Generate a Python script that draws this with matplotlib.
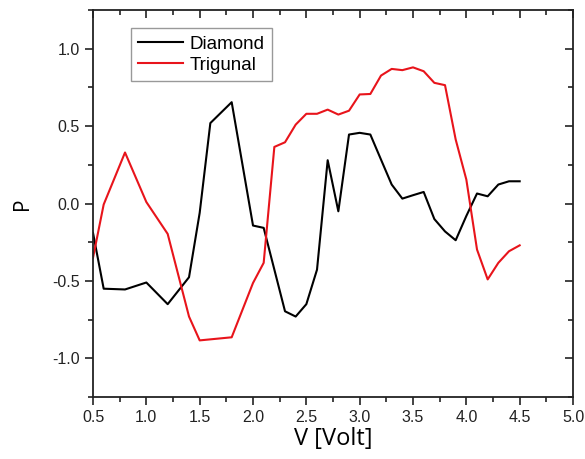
import numpy as np
import matplotlib
matplotlib.use("Agg")
import matplotlib.pyplot as plt
from matplotlib.ticker import MultipleLocator

plt.rcParams["axes.unicode_minus"] = False

# Diamond (black) vertices
v_dia = [0.5, 0.6, 0.8, 1.0, 1.2, 1.4, 1.5, 1.6, 1.8, 2.0, 2.1, 2.3, 2.4, 2.5, 2.6,
         2.7, 2.8, 2.9, 3.0, 3.1, 3.2, 3.3, 3.4, 3.5, 3.6, 3.7, 3.8, 3.9, 4.0, 4.1,
         4.2, 4.3, 4.4, 4.5]
p_dia = [-0.19, -0.55, -0.555, -0.51, -0.65, -0.476, -0.06, 0.52, 0.655, -0.142, -0.157,
         -0.696, -0.73, -0.65, -0.427, 0.28, -0.05, 0.446, 0.457, 0.446, 0.284, 0.123,
         0.032, 0.054, 0.075, -0.10, -0.18, -0.237, -0.08, 0.065, 0.047, 0.123, 0.144,
         0.144]

# Trigunal (red)
v_tri = [0.5, 0.6, 0.8, 1.0, 1.2, 1.4, 1.5, 1.8, 2.0, 2.1, 2.2, 2.3, 2.4, 2.5, 2.6,
         2.7, 2.8, 2.9, 3.0, 3.1, 3.2, 3.3, 3.4, 3.5, 3.6, 3.7, 3.8, 3.9, 4.0, 4.1,
         4.2, 4.3, 4.4, 4.5]
p_tri = [-0.35, -0.006, 0.33, 0.01, -0.196, -0.73, -0.884, -0.864, -0.513, -0.383,
         0.366, 0.396, 0.51, 0.58, 0.58, 0.607, 0.575, 0.60, 0.705, 0.708, 0.827, 0.87,
         0.862, 0.88, 0.855, 0.78, 0.765, 0.414, 0.155, -0.297, -0.49, -0.383, -0.308,
         -0.27]

fig = plt.figure(figsize=(5.85, 4.59), dpi=100)
ax = fig.add_axes([0.159, 0.135, 0.8205, 0.843])

ax.plot(v_dia, p_dia, color="black", lw=1.5, label="Diamond")
ax.plot(v_tri, p_tri, color="#e8141b", lw=1.5, label="Trigunal")

ax.set_xlim(0.5, 5.0)
ax.set_ylim(-1.25, 1.25)
ax.xaxis.set_major_locator(MultipleLocator(0.5))
ax.xaxis.set_minor_locator(MultipleLocator(0.25))
ax.yaxis.set_major_locator(MultipleLocator(0.5))
ax.yaxis.set_minor_locator(MultipleLocator(0.25))

for s in ax.spines.values():
    s.set_linewidth(1.3)
    s.set_color("#222222")

ax.tick_params(axis="both", which="major", direction="out", length=6, width=1.2,
               labelsize=11.5, colors="#222222")
ax.tick_params(axis="both", which="minor", direction="out", length=3.5, width=1.2,
               colors="#222222")
ax.tick_params(which="both", top=True, right=True)
ax.tick_params(axis="x", which="both", labelfontfamily="Liberation Sans")
ax.tick_params(axis="y", which="both", labelfontfamily="Liberation Sans")

# top/right ticks point inward
for t in ax.xaxis.get_major_ticks() + ax.xaxis.get_minor_ticks():
    t.tick2line.set_marker(matplotlib.lines.TICKDOWN)
for t in ax.yaxis.get_major_ticks() + ax.yaxis.get_minor_ticks():
    t.tick2line.set_marker(matplotlib.lines.TICKLEFT)

ax.set_xlabel("V [Volt]", fontsize=17, family="Open Sans", labelpad=1)
ax.set_ylabel("P", fontsize=15, family="Open Sans", labelpad=14)

leg = ax.legend(loc="upper left", bbox_to_anchor=(0.079, 0.953), fancybox=False,
                framealpha=1, edgecolor="#999999", handlelength=2.4,
                prop={"family": "Liberation Sans", "size": 13.5},
                borderpad=0.4, labelspacing=0.2, handletextpad=0.35,
                borderaxespad=0)
leg.get_frame().set_linewidth(1.0)

fig.savefig("out.png", dpi=100)
